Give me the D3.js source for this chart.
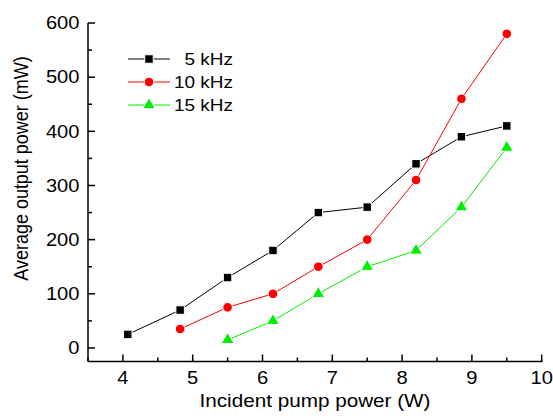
<!DOCTYPE html>
<html>
<head>
<meta charset="utf-8">
<script src="https://cdn.jsdelivr.net/npm/d3@7"></script>
<style>
  body { margin: 0; background: #fff; }
  svg { font-family: Arial, "Liberation Sans", sans-serif; }
</style>
</head>
<body>
<svg id="chart" width="553" height="419"></svg>
<script>
// data
const pumpPower = [4.07, 4.82, 5.5, 6.15, 6.8, 7.5, 8.2, 8.85, 9.5];
const power5k = [25, 70, 130, 180, 250, 260, 340, 390, 410];
const power10k = [null, 35, 75, 100, 150, 200, 310, 460, 580];
const power15k = [null, null, 15, 50, 100, 150, 180, 260, 370];
const xTicks = [4, 5, 6, 7, 8, 9, 10];
const yTicks = [0, 100, 200, 300, 400, 500, 600];

const series = [
  { name: '5 kHz', values: power5k, color: '#000000', symbol: d3.symbolSquare, size: 72 },
  { name: '10 kHz', values: power10k, color: '#ff0000', symbol: d3.symbolCircle, size: 72 },
  { name: '15 kHz', values: power15k, color: '#00ee00', symbol: d3.symbolTriangle, size: 70 }
];

const svg = d3.select('#chart');
const plot = { left: 88, right: 541.7, top: 23, bottom: 361.5 };
const stretch = 1.15; // the source text is a little wide

const x = d3.scaleLinear().domain([3.5, 10]).range([plot.left, plot.right]);
const y = d3.scaleLinear().domain([-25, 600]).range([plot.bottom, plot.top]);

// minor ticks
const xMinor = d3.range(3.5, 10.01, 0.5).filter(v => !xTicks.includes(v));
const yMinor = d3.range(0, 600, 50).filter(v => !yTicks.includes(v));

const axes = svg.append('g').attr('stroke', '#000').attr('stroke-width', 1.5);

axes.selectAll('.xmaj').data(xTicks).join('line')
  .attr('class', 'xmaj')
  .attr('x1', d => x(d)).attr('x2', d => x(d))
  .attr('y1', plot.bottom).attr('y2', plot.bottom - 7);
axes.selectAll('.xmin').data(xMinor).join('line')
  .attr('class', 'xmin')
  .attr('x1', d => x(d)).attr('x2', d => x(d))
  .attr('y1', plot.bottom).attr('y2', plot.bottom - 4);
axes.selectAll('.ymaj').data(yTicks).join('line')
  .attr('class', 'ymaj')
  .attr('x1', plot.left).attr('x2', plot.left + 7)
  .attr('y1', d => y(d)).attr('y2', d => y(d));
axes.selectAll('.ymin').data(yMinor).join('line')
  .attr('class', 'ymin')
  .attr('x1', plot.left).attr('x2', plot.left + 4)
  .attr('y1', d => y(d)).attr('y2', d => y(d));

axes.append('line').attr('x1', plot.left).attr('x2', plot.right + 0.75)
  .attr('y1', plot.bottom).attr('y2', plot.bottom);
axes.append('line').attr('x1', plot.left).attr('x2', plot.left)
  .attr('y1', plot.top).attr('y2', plot.bottom);

// tick labels
svg.append('g').selectAll('text').data(xTicks).join('text')
  .attr('transform', d => `translate(${x(d)},384) scale(${stretch},1)`)
  .attr('text-anchor', 'middle')
  .attr('font-size', 17.5)
  .text(d => d);

svg.append('g').selectAll('text').data(yTicks).join('text')
  .attr('transform', d => `translate(79.5,${y(d) + 6.3}) scale(${stretch},1)`)
  .attr('text-anchor', 'end')
  .attr('font-size', 17.5)
  .text(d => d);

// axis titles
svg.append('text')
  .attr('transform', `translate(315,407) scale(${stretch},1)`)
  .attr('text-anchor', 'middle')
  .attr('font-size', 18)
  .text('Incident pump power (W)');

svg.append('text')
  .attr('transform', `translate(28,168.5) scale(${stretch},1) rotate(-90)`)
  .attr('text-anchor', 'middle')
  .attr('font-size', 18)
  .text('Average output power (mW)');

// lines and markers
const line = d3.line()
  .defined(d => d.v !== null)
  .x(d => x(d.p))
  .y(d => y(d.v));

series.forEach(s => {
  const pts = pumpPower.map((p, i) => ({ p, v: s.values[i] }));
  svg.append('path')
    .datum(pts)
    .attr('fill', 'none')
    .attr('stroke', s.color)
    .attr('stroke-width', 1)
    .attr('d', line);

  const sym = d3.symbol().type(s.symbol).size(s.size);
  svg.append('g').selectAll('path')
    .data(pts.filter(d => d.v !== null))
    .join('path')
    .attr('transform', d => `translate(${x(d.p)},${y(d.v)})`)
    .attr('d', sym)
    .attr('fill', s.color)
    .attr('stroke', '#fff')
    .attr('stroke-width', 1);
});

// legend
const legend = svg.append('g');
series.forEach((s, i) => {
  const ly = 59 + i * 23;
  legend.append('line')
    .attr('x1', 128).attr('x2', 170)
    .attr('y1', ly).attr('y2', ly)
    .attr('stroke', s.color).attr('stroke-width', 1);
  legend.append('path')
    .attr('transform', `translate(149,${ly})`)
    .attr('d', d3.symbol().type(s.symbol).size(s.size)())
    .attr('fill', s.color)
    .attr('stroke', '#fff')
    .attr('stroke-width', 1);
  legend.append('text')
    .attr('transform', `translate(233,${ly + 6}) scale(${stretch},1)`)
    .attr('text-anchor', 'end')
    .attr('font-size', 16.5)
    .text(s.name);
});
</script>
</body>
</html>
